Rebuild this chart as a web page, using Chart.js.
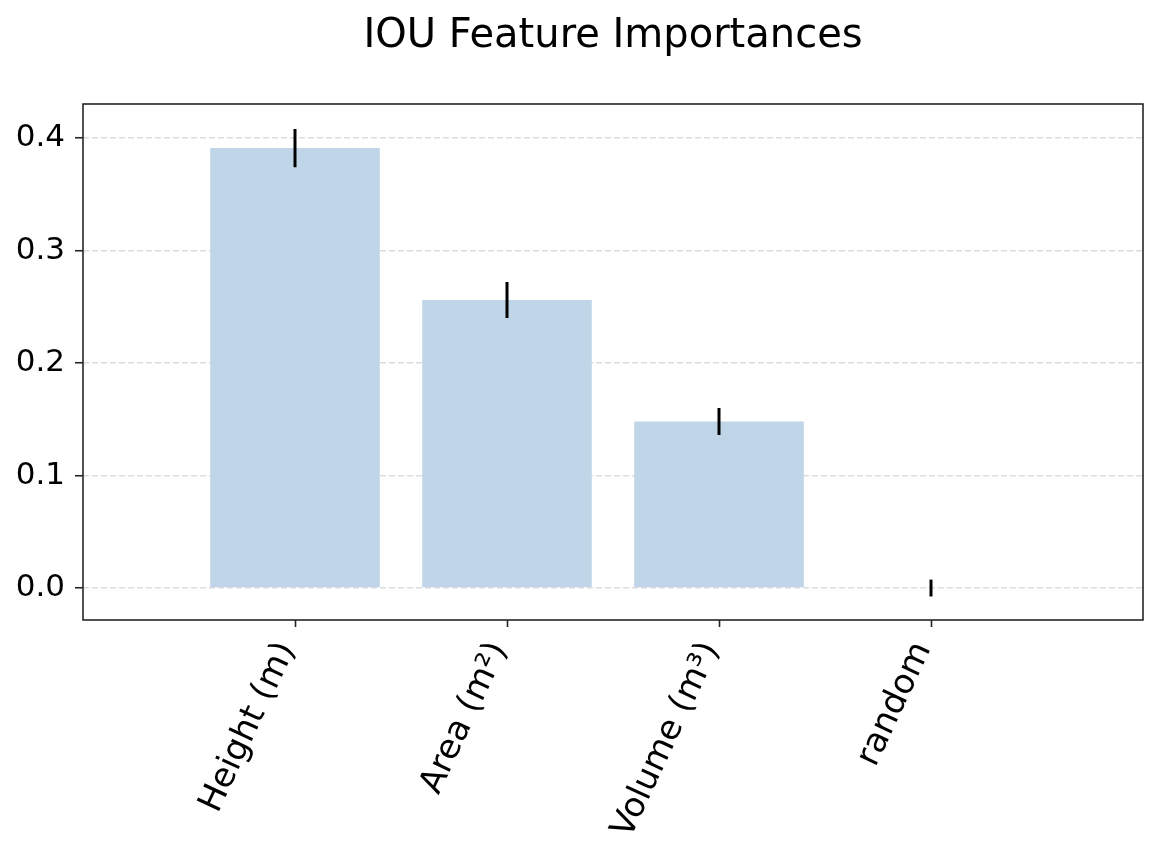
<!DOCTYPE html>
<html>
<head>
<meta charset="utf-8">
<script src="https://cdn.jsdelivr.net/npm/chart.js@4/dist/chart.umd.min.js"></script>
<style>
    html, body { margin: 0; padding: 0; background: #fff; }
    #wrap { width: 1158px; height: 858px; }
</style>
</head>
<body>
<div id="wrap"><canvas id="importances-chart"></canvas></div>
<script>
const categories = ['Height (m)', 'Area (m²)', 'Volume (m³)', 'random'];
const importances = [0.391, 0.256, 0.148, 0.0];
const errors = [0.017, 0.016, 0.012, 0.0075];
const yTicks = [0.0, 0.1, 0.2, 0.3, 0.4];

// Draw error bars and the frame around the plot area
const errorBarPlugin = {
    id: 'errorBars',
    afterLayout(chart) {
        // centre the title over the plot area, like matplotlib does
        const t = chart.titleBlock;
        if (t) {
            t.left = chart.chartArea.left;
            t.right = chart.chartArea.right;
        }
    },
    afterDatasetsDraw(chart) {
        const { ctx, scales: { x, y }, chartArea } = chart;
        ctx.save();
        ctx.strokeStyle = '#000';
        ctx.lineWidth = 3;
        importances.forEach((v, i) => {
            const px = x.getPixelForValue(i);
            ctx.beginPath();
            ctx.moveTo(px, y.getPixelForValue(v + errors[i]));
            ctx.lineTo(px, y.getPixelForValue(v - errors[i]));
            ctx.stroke();
        });
        ctx.strokeStyle = '#262626';
        ctx.lineWidth = 1.6;
        ctx.strokeRect(chartArea.left, chartArea.top, chartArea.right - chartArea.left, chartArea.bottom - chartArea.top);
        ctx.restore();
    }
};

const ctx = document.getElementById('importances-chart');

new Chart(ctx, {
    type: 'bar',
    data: {
        datasets: [{
            label: 'Importance',
            data: importances.map((v, i) => ({ x: i, y: v })),
            backgroundColor: '#c1d5e8',
            borderWidth: 0,
            barPercentage: 0.8,
            categoryPercentage: 1.0
        }]
    },
    options: {
        responsive: true,
        maintainAspectRatio: false,
        animation: false,
        layout: { padding: { left: 0, right: 15, top: 0, bottom: 0 } },
        plugins: {
            legend: { display: false },
            tooltip: { enabled: false },
            title: {
                display: true,
                text: 'IOU Feature Importances',
                color: '#000',
                font: { family: 'DejaVu Sans', size: 40, weight: 'normal', lineHeight: 1.2 },
                padding: { top: 13, bottom: 43 }
            }
        },
        scales: {
            x: {
                type: 'linear',
                min: -1,
                max: 4,
                offset: false,
                afterFit: scale => { scale.height = 238; },
                afterBuildTicks: scale => {
                    scale.ticks = categories.map((c, i) => ({ value: i }));
                },
                border: { display: false },
                grid: {
                    offset: false,
                    drawOnChartArea: false,
                    drawTicks: true,
                    tickLength: 7,
                    tickColor: '#262626',
                    tickWidth: 1.6
                },
                ticks: {
                    autoSkip: false,
                    minRotation: 65,
                    maxRotation: 65,
                    padding: 9,
                    labelOffset: -8,
                    color: '#000',
                    font: { family: 'DejaVu Sans', size: 34 },
                    callback: v => categories[v] ?? ''
                }
            },
            y: {
                min: -0.0284,
                max: 0.4302,
                afterFit: scale => { scale.width = 83; },
                afterBuildTicks: scale => {
                    scale.ticks = yTicks.map(v => ({ value: v }));
                },
                border: { display: false, dash: [6, 3] },
                grid: {
                    color: '#dcdcdc',
                    lineWidth: 1.5,
                    drawTicks: true,
                    tickLength: 8,
                    tickColor: '#262626',
                    tickWidth: 1.6,
                    tickBorderDash: []
                },
                ticks: {
                    padding: 10,
                    color: '#000',
                    font: { family: 'DejaVu Sans', size: 31 },
                    callback: v => v.toFixed(1)
                }
            }
        }
    },
    plugins: [errorBarPlugin]
});
</script>
</body>
</html>
